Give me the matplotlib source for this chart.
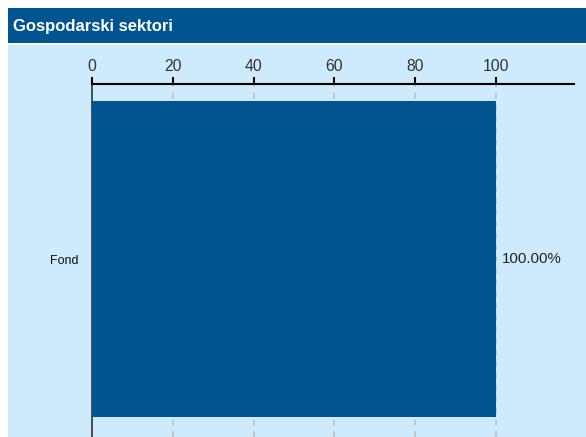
import matplotlib.pyplot as plt
from matplotlib.patches import Rectangle

# podaci
kategorije = ['Fond']
vrijednosti = [100.0]
oznake = ['100.00%']
x_ticks = [0, 20, 40, 60, 80, 100]

plava = '#00548f'
svijetla = '#cdebfd'

plt.rcParams['font.family'] = ['Liberation Sans', 'DejaVu Sans']

fig = plt.figure(figsize=(5.86, 4.37), dpi=100)
fig.patch.set_facecolor('white')

# naslovna traka i pozadina
fig.patches.append(Rectangle((8/586, 1 - 43/437), 1, 35/437, transform=fig.transFigure,
                             facecolor=plava, edgecolor='none', zorder=-5))
fig.patches.append(Rectangle((8/586, 0), 1, 1 - 45/437, transform=fig.transFigure,
                             facecolor=svijetla, edgecolor='none', zorder=-5))
fig.text(13/586, 1 - 26/437, 'Gospodarski sektori', color='white', fontsize=12,
         fontweight='bold', va='center', ha='left')

ax = fig.add_axes([92/586, 0, (574 - 92)/586, (437 - 84)/437])
ax.set_facecolor('none')
ax.barh(kategorije, vrijednosti, height=0.8, color=plava, zorder=3)
for i, (v, t) in enumerate(zip(vrijednosti, oznake)):
    ax.text(v + 1.4, i, t, va='center', ha='left', fontsize=10.8, color='#222222')

ax.set_xlim(0, 119.3)
ax.set_ylim(0.45, -0.443)
ax.set_xticks(x_ticks)
ax.xaxis.tick_top()
ax.tick_params(axis='x', direction='out', length=5, width=1.5, labelsize=11.3,
               pad=2, colors='black', labelcolor='#333333')
ax.tick_params(axis='y', length=0, labelsize=9, pad=10, labelcolor='#111111')
ax.grid(axis='x', color='#c4c4c4', linestyle=(0, (3, 3)), linewidth=1.4, zorder=1)

for s in ['right', 'bottom']:
    ax.spines[s].set_visible(False)
ax.spines['top'].set_linewidth(1.5)
ax.spines['left'].set_linewidth(1.2)
ax.spines['left'].set_color('#333333')

plt.savefig('out.png', dpi=100)
